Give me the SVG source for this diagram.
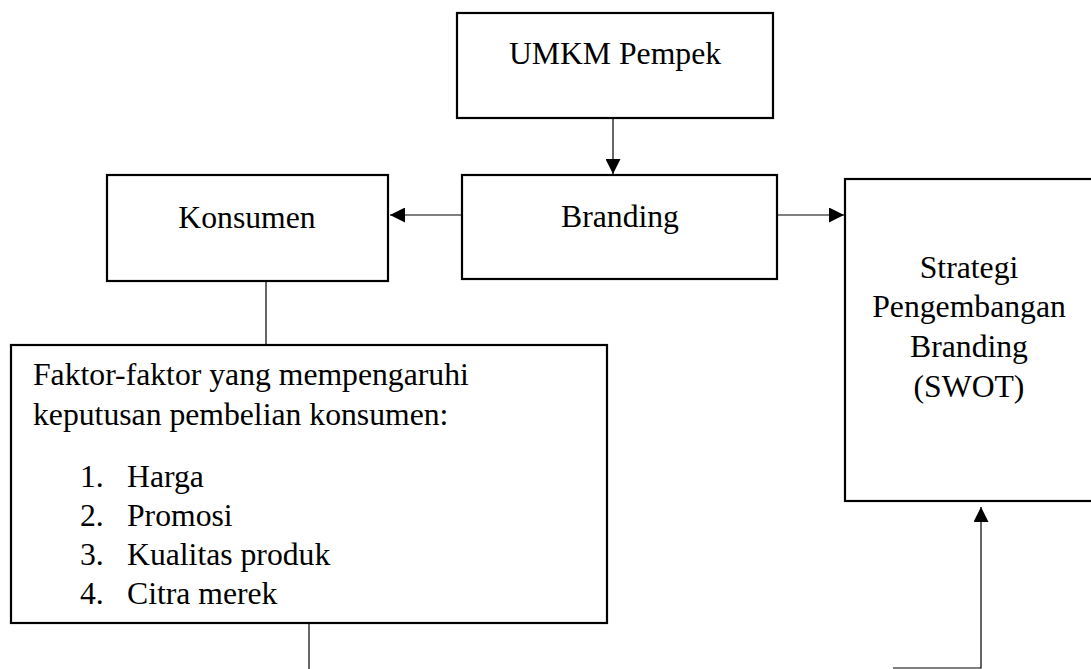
<svg xmlns="http://www.w3.org/2000/svg" width="1091" height="669" viewBox="0 0 1091 669">
<defs>
<style>
.box{fill:#fff;stroke:#000;stroke-width:2.2}
text{font-family:'Liberation Serif','Times New Roman',Times,serif;font-size:31.7px;fill:#000}
.c{text-anchor:middle}
.ln{fill:none;stroke:#000;stroke-width:1.2}
</style>
<marker id="ah" viewBox="0 0 10 10" refX="10" refY="5" markerWidth="15" markerHeight="15" markerUnits="userSpaceOnUse" orient="auto">
<path d="M0,0 L10,5 L0,10 Z" fill="#000"/>
</marker>
</defs>
<rect width="1091" height="669" fill="#fff"/>
<g id="connectors">
<line class="ln" x1="613" y1="119" x2="613" y2="174" marker-end="url(#ah)"/>
<line class="ln" x1="462" y1="215" x2="390" y2="215" marker-end="url(#ah)"/>
<line class="ln" x1="777" y1="215" x2="844" y2="215" marker-end="url(#ah)"/>
<line class="ln" x1="266" y1="281" x2="266" y2="345"/>
<line class="ln" x1="309" y1="623" x2="309" y2="669"/>
<polyline class="ln" points="893,668 981,668 981,507" marker-end="url(#ah)"/>
</g>
<g font-family="Liberation Serif, Times New Roman, serif" font-size="31.7">
<g id="umkm">
<rect class="box" x="457" y="13" width="316" height="105"/>
<text class="c" x="615" y="64">UMKM Pempek</text>
</g>
<g id="branding">
<rect class="box" x="462" y="175" width="315" height="104"/>
<text class="c" x="620" y="227">Branding</text>
</g>
<g id="konsumen">
<rect class="box" x="107" y="175" width="281" height="106"/>
<text class="c" x="247" y="228">Konsumen</text>
</g>
<g id="faktor">
<rect class="box" x="11" y="345" width="596" height="278"/>
<text x="33" y="385">Faktor-faktor yang mempengaruhi</text>
<text x="33" y="425">keputusan pembelian konsumen:</text>
<text x="80" y="487">1.</text><text x="127" y="487">Harga</text>
<text x="80" y="526">2.</text><text x="127" y="526">Promosi</text>
<text x="80" y="565">3.</text><text x="127" y="565">Kualitas produk</text>
<text x="80" y="604">4.</text><text x="127" y="604">Citra merek</text>
</g>
<g id="strategi">
<rect class="box" x="845" y="179" width="260" height="322"/>
<text class="c" x="969" y="278">Strategi</text>
<text class="c" x="969" y="317">Pengembangan</text>
<text class="c" x="969" y="357">Branding</text>
<text class="c" x="969" y="397">(SWOT)</text>
</g>
</g>
</svg>
